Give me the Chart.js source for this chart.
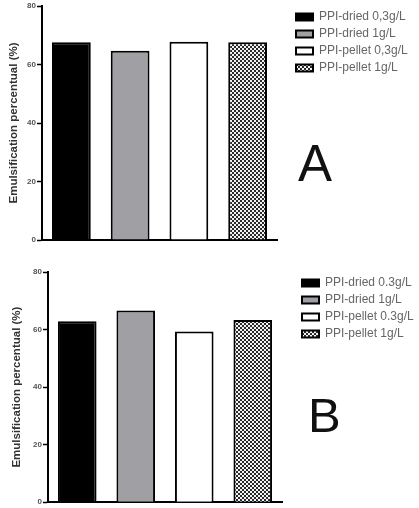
<!DOCTYPE html>
<html>
<head>
<meta charset="utf-8">
<script src="https://cdn.jsdelivr.net/npm/chart.js@4"></script>
<style>
  body { margin: 0; background: #fff; width: 419px; height: 508px; position: relative; overflow: hidden; }
  canvas { position: absolute; left: 0; }
  #chartA { top: 0; }
  #chartB { top: 255px; }
  .letter { position: absolute; font-family: "Liberation Sans", Arial, sans-serif; line-height: 1; color: #111; }
  #letterA { left: 298px; top: 138px; font-size: 51px; }
  #letterB { left: 308px; top: 391px; font-size: 49px; }
</style>
</head>
<body>
<canvas id="chartA" width="419" height="252"></canvas>
<canvas id="chartB" width="419" height="253"></canvas>
<div class="letter" id="letterA">A</div>
<div class="letter" id="letterB">B</div>
<script>
// series names (panel A uses comma, panel B a dot)
const namesA = ['PPI-dried 0,3g/L', 'PPI-dried 1g/L', 'PPI-pellet 0,3g/L', 'PPI-pellet 1g/L'];
const namesB = ['PPI-dried 0.3g/L', 'PPI-dried 1g/L', 'PPI-pellet 0.3g/L', 'PPI-pellet 1g/L'];

// emulsification values (%)
const valuesA = [67.6, 64.7, 67.8, 67.6];
const valuesB = [62.9, 66.6, 59.3, 63.3];

// y axis ticks
const yTicks = [0, 20, 40, 60, 80];
const yTitle = 'Emulsification percentual (%)';

//checker pattern for the last bar
function checker(){
    let c = document.createElement('canvas');
    c.width = 4; c.height = 4;
    let g = c.getContext('2d');
    g.fillStyle = '#f2f2f2';
    g.fillRect(0, 0, 4, 4);
    g.fillStyle = '#2a2a2a';
    g.fillRect(0, 0, 2, 2);
    g.fillRect(2, 2, 2, 2);
    return g.createPattern(c, 'repeat');
}

//keep the plot narrow and leave a gap before the legend
function legendGap(plotRight, padRight, gap){
    return {
        id: 'legendGap',
        afterInit(chart){
            let lg = chart.legend;
            let fit = lg.fit;
            lg.fit = function(){
                fit.call(this);
                let want = chart.width - padRight - plotRight;
                if (want > this.width) this.width = want;
            };
        },
        afterLayout(chart){
            let lg = chart.legend;
            let w = lg.right - lg.left;
            lg.left = chart.chartArea.right + gap;
            lg.right = lg.left + w;
        }
    };
}

function makeChart(id, names, values, axisWidth, titlePad, pad, plotRight, gap){

    let fills = ['#000000', '#a0a0a4', '#ffffff', checker()];

    let datasets = [];
    for (let i=0;i<names.length;i++){
        datasets.push({
            label: names[i],
            data: [values[i]],
            backgroundColor: fills[i],
            borderColor: '#000',
            borderWidth: 2,
            borderSkipped: 'bottom',
            barPercentage: 0.66,
            categoryPercentage: 1.0
        });
    }

    return new Chart(document.getElementById(id), {
        type: 'bar',
        data: { labels: [''], datasets: datasets },
        plugins: [legendGap(plotRight, pad.right, gap)],
        options: {
            responsive: false,
            animation: false,
            layout: { padding: pad },
            plugins: {
                tooltip: { enabled: false },
                legend: {
                    position: 'right',
                    align: 'start',
                    labels: {
                        boxWidth: 17,
                        boxHeight: 7,
                        padding: 5,
                        color: '#666',
                        font: { family: 'Liberation Sans, Arial, sans-serif', size: 12 }
                    }
                }
            },
            scales: {
                x: {
                    ticks: { display: false },
                    grid: { display: true, drawOnChartArea: false, drawTicks: false },
                    border: { display: true, color: '#000', width: 2 }
                },
                y: {
                    min: 0,
                    max: 80,
                    afterBuildTicks: function(scale){ scale.ticks = yTicks.map(v => ({ value: v })); },
                    afterFit: function(scale){ scale.width = axisWidth; },
                    ticks: {
                        padding: 1,
                        color: '#555',
                        font: { family: 'Liberation Sans, Arial, sans-serif', size: 8, weight: 'bold' }
                    },
                    grid: { display: true, drawOnChartArea: false, drawTicks: true, tickLength: 5, tickWidth: 1.5, color: '#000' },
                    border: { display: true, color: '#000', width: 2 },
                    title: {
                        display: true,
                        text: yTitle,
                        color: '#333',
                        padding: { top: titlePad, bottom: 0 },
                        font: { family: 'Liberation Sans, Arial, sans-serif', size: 11.5, weight: 'bold' }
                    }
                }
            }
        }
    });
}

makeChart('chartA', namesA, valuesA, 42, 7, { top: 6, bottom: 12, left: 0, right: 6 }, 277, 14);
makeChart('chartB', namesB, valuesB, 48, 10, { top: 17, bottom: 2, left: 0, right: 1 }, 282, 15);
</script>
</body>
</html>
